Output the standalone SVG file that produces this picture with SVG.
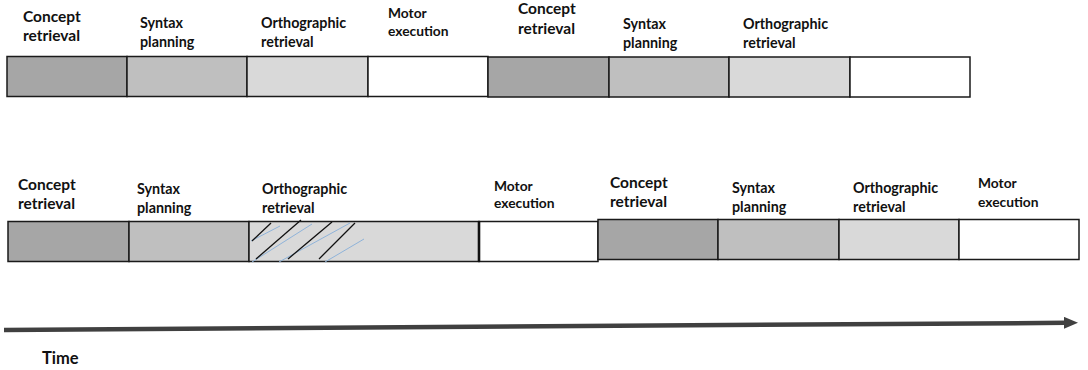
<svg xmlns="http://www.w3.org/2000/svg" width="1088" height="370" viewBox="0 0 1088 370">
<style>
.seg{stroke:#1a1a1a;stroke-width:1.5}
.c{fill:#a6a6a6}.s{fill:#bfbfbf}.o{fill:#d9d9d9}.m{fill:#ffffff}
text{font-family:"Lato","Liberation Sans",sans-serif;font-weight:bold;fill:#111}
.big{font-size:15.5px}.mid{font-size:14.3px}.sm{font-size:13.8px}
.hk{stroke:#111;stroke-width:1.3}.hb{stroke:#8fb3d9;stroke-width:1}
</style>
<defs>
<marker id="ah" markerWidth="14" markerHeight="12" refX="2" refY="6" orient="auto" markerUnits="userSpaceOnUse" viewBox="0 0 14 12">
<path d="M0,0 L14,6 L0,12 z" fill="#404040"/>
</marker>
</defs>
<!-- top row, utterance 1 -->
<g id="t1-concept"><rect class="seg c" x="7" y="56.5" width="120" height="40"/><text class="big" x="23" y="22">Concept</text><text class="big" x="23" y="41">retrieval</text></g>
<g id="t1-syntax"><rect class="seg s" x="127" y="56.5" width="120" height="40"/><text class="mid" x="140" y="28">Syntax</text><text class="mid" x="140" y="47">planning</text></g>
<g id="t1-ortho"><rect class="seg o" x="247" y="56.5" width="121" height="40"/><text class="mid" x="261" y="28">Orthographic</text><text class="mid" x="261" y="47">retrieval</text></g>
<g id="t1-motor"><rect class="seg m" x="368" y="56.5" width="120" height="40"/><text class="sm" x="388" y="18">Motor</text><text class="sm" x="388" y="36">execution</text></g>
<!-- top row, utterance 2 -->
<g id="t2-concept"><rect class="seg c" x="488" y="57" width="121" height="40"/><text class="big" x="518" y="14">Concept</text><text class="big" x="518" y="34">retrieval</text></g>
<g id="t2-syntax"><rect class="seg s" x="609" y="57" width="120" height="40"/><text class="mid" x="623" y="29">Syntax</text><text class="mid" x="623" y="48">planning</text></g>
<g id="t2-ortho"><rect class="seg o" x="729" y="57" width="121" height="40"/><text class="mid" x="743" y="29">Orthographic</text><text class="mid" x="743" y="48">retrieval</text></g>
<g id="t2-motor"><rect class="seg m" x="850" y="57" width="120" height="40"/></g>
<!-- bottom row, utterance 1 -->
<g id="b1-concept"><rect class="seg c" x="8" y="221.5" width="121" height="40"/><text class="big" x="18" y="190">Concept</text><text class="big" x="18" y="209">retrieval</text></g>
<g id="b1-syntax"><rect class="seg s" x="129" y="221.5" width="120" height="40"/><text class="mid" x="137" y="194">Syntax</text><text class="mid" x="137" y="213">planning</text></g>
<g id="b1-ortho"><rect class="seg o" x="249" y="221.5" width="230" height="40"/>
<line class="hb" x1="251" y1="241" x2="280" y2="226"/>
<line class="hb" x1="252" y1="262" x2="312" y2="224"/>
<line class="hb" x1="279" y1="262" x2="350" y2="223"/>
<line class="hb" x1="325" y1="262" x2="364" y2="239"/>
<line class="hk" x1="252" y1="241" x2="271" y2="223"/>
<line class="hk" x1="256" y1="259" x2="301" y2="220"/>
<line class="hk" x1="288" y1="259" x2="332" y2="222"/>
<line class="hk" x1="319" y1="259" x2="355" y2="223"/>
<text class="mid" x="262" y="194">Orthographic</text><text class="mid" x="262" y="213">retrieval</text></g>
<g id="b1-motor"><rect class="seg m" x="479" y="221.5" width="119" height="40"/><line x1="479" y1="221" x2="479" y2="262" stroke="#111" stroke-width="2.6"/><text class="sm" x="494" y="191">Motor</text><text class="sm" x="494" y="208">execution</text></g>
<!-- bottom row, utterance 2 -->
<g id="b2-concept"><rect class="seg c" x="598" y="219.5" width="120" height="40"/><text class="big" x="610" y="188">Concept</text><text class="big" x="610" y="207">retrieval</text></g>
<g id="b2-syntax"><rect class="seg s" x="718" y="219.5" width="121" height="40"/><text class="mid" x="732" y="193">Syntax</text><text class="mid" x="732" y="212">planning</text></g>
<g id="b2-ortho"><rect class="seg o" x="839" y="219.5" width="120" height="40"/><text class="mid" x="853" y="193">Orthographic</text><text class="mid" x="853" y="212">retrieval</text></g>
<g id="b2-motor"><rect class="seg m" x="959" y="219.5" width="120" height="40"/><text class="sm" x="978" y="188">Motor</text><text class="sm" x="978" y="207">execution</text></g>
<!-- connectors -->
<g id="connectors">
<line x1="4" y1="330" x2="1066" y2="322.8" stroke="#404040" stroke-width="4.5" marker-end="url(#ah)"/>
</g>
<g id="time-label"><text x="42" y="364" style="font-size:16.5px">Time</text></g>
</svg>
